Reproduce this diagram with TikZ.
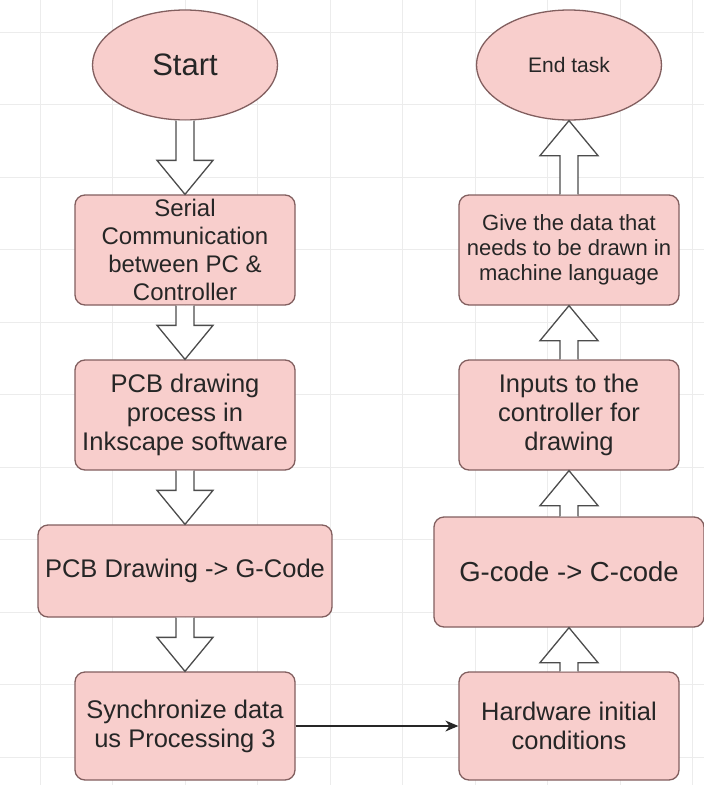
\documentclass[tikz,border=0pt]{standalone}
\usepackage{fontspec}
\setmainfont{Liberation Sans}
\usepackage{tikz}
\usetikzlibrary{positioning, arrows.meta, calc, shapes.geometric}

\definecolor{boxfill}{RGB}{248,206,204}
\definecolor{boxline}{RGB}{130,95,95}
\definecolor{gridgray}{RGB}{236,236,236}

\tikzset{
  flowbox/.style={draw=boxline, fill=boxfill, line width=1.3pt, rounded corners=10pt,
    inner sep=0pt, align=center, text=black!85, font=\fontsize{25.5}{29}\selectfont},
  terminal/.style={ellipse, draw=boxline, fill=boxfill, line width=1.3pt, inner sep=0pt,
    minimum width=185pt, minimum height=110pt, text=black!85},
  hollow/.style={draw=black!70, fill=white, line width=1.3pt, line join=miter},
  gridline/.style={gridgray, line width=0.8pt}
}

% block arrows between two nodes
\newcommand{\hollowdown}[2]{
  \draw[hollow] ($(#1.south)+(-9,0)$) -- ($(#2.north)+(-9,-34)$) -- ($(#2.north)+(-28,-34)$)
    -- (#2.north) -- ($(#2.north)+(28,-34)$) -- ($(#2.north)+(9,-34)$) -- ($(#1.south)+(9,0)$);
}
\newcommand{\hollowup}[2]{
  \draw[hollow] ($(#1.north)+(-9,0)$) -- ($(#2.south)+(-9,35)$) -- ($(#2.south)+(-29,35)$)
    -- (#2.south) -- ($(#2.south)+(29,35)$) -- ($(#2.south)+(9,35)$) -- ($(#1.north)+(9,0)$);
}

\begin{document}
\begin{tikzpicture}[x=1pt, y=-1pt]
    \useasboundingbox (0,0) rectangle (704,785);
    \fill[white] (0,0) rectangle (704,785);

    % background grid
    \foreach \gx in {40,112.5,...,700} \draw[gridline] (\gx,0) -- (\gx,785);
    \foreach \gy in {32,104.5,...,780} \draw[gridline] (0,\gy) -- (704,\gy);

    % left column - going down
    \node[terminal, font=\fontsize{31}{34}\selectfont] (start) at (185,65) {Start};
    \node[flowbox, minimum width=220pt, minimum height=110pt, font=\fontsize{24}{28}\selectfont] (serial) at (185,250)
        {Serial\\Communication\\between PC \&\\Controller};
    \node[flowbox, minimum width=220pt, minimum height=110pt] (inkscape) at (185,415)
        {PCB drawing\\process in\\Inkscape software};
    \node[flowbox, minimum width=294pt, minimum height=92pt] (gcode) at (185,571)
        {PCB Drawing -> G-Code};
    \node[flowbox, minimum width=220pt, minimum height=108pt] (sync) at (185,726)
        {Synchronize data\\us Processing 3};

    % right column - going up
    \node[flowbox, minimum width=220pt, minimum height=108pt] (hardware) at (569,726)
        {Hardware initial\\conditions};
    \node[flowbox, minimum width=270pt, minimum height=110pt, font=\fontsize{27.5}{31}\selectfont] (convert) at (569,572)
        {G-code -> C-code};
    \node[flowbox, minimum width=220pt, minimum height=110pt] (inputs) at (569,415)
        {Inputs to the\\controller for\\drawing};
    \node[flowbox, minimum width=220pt, minimum height=110pt, font=\fontsize{22}{25}\selectfont] (givedata) at (569,250)
        {Give the data that\\needs to be drawn in\\machine language};
    \node[terminal, font=\fontsize{21}{25}\selectfont] (endtask) at (569,65) {End task};

    % block arrows
    \hollowdown{start}{serial}
    \hollowdown{serial}{inkscape}
    \hollowdown{inkscape}{gcode}
    \hollowdown{gcode}{sync}
    \hollowup{hardware}{convert}
    \hollowup{convert}{inputs}
    \hollowup{inputs}{givedata}
    \hollowup{givedata}{endtask}

    % link between the columns
    \draw[-{Stealth[length=13pt, width=11pt]}, line width=1.3pt, black!85] (sync) -- (hardware);
\end{tikzpicture}
\end{document}
